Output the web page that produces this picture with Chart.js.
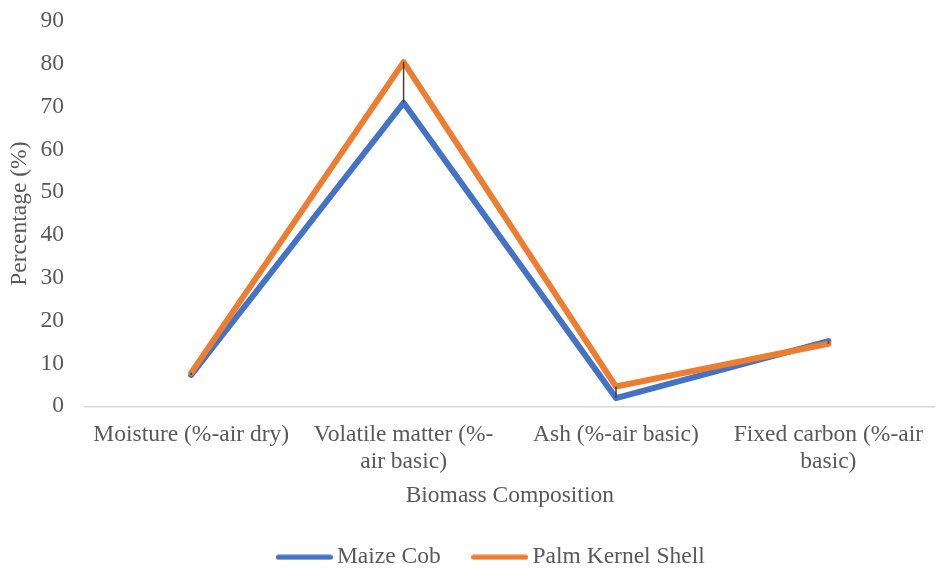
<!DOCTYPE html>
<html>
<head>
<meta charset="utf-8">
<script src="https://cdn.jsdelivr.net/npm/chart.js@4/dist/chart.umd.min.js"></script>
<style>
  html, body { margin: 0; padding: 0; background: #fff; }
  #wrap { width: 938px; height: 568px; }
</style>
</head>
<body>
<div id="wrap"><canvas id="c" width="938" height="568"></canvas></div>
<script>
// Proximate composition of the two biomass samples
const categories = [
  'Moisture (%-air dry)',
  ['Volatile matter (%-', 'air basic)'],
  'Ash (%-air basic)',
  ['Fixed carbon (%-air', 'basic)']
];
const maizeCob = [7.3, 70.9, 1.9, 15.2];
const palmKernelShell = [7.8, 80.4, 4.6, 14.6];
const yTicks = [0, 10, 20, 30, 40, 50, 60, 70, 80, 90];

const BLUE = '#4472C4';
const ORANGE = '#ED7D31';
const TEXT = '#595959';
const FONT = 'Liberation Serif';
const FS = 23.5;

// Short thick line with rounded ends, used as the legend marker
function legendLine(color) {
  const cv = document.createElement('canvas');
  cv.width = 57;
  cv.height = 6;
  const g = cv.getContext('2d');
  g.strokeStyle = color;
  g.lineWidth = 5;
  g.lineCap = 'round';
  g.beginPath();
  g.moveTo(2.5, 3);
  g.lineTo(54.5, 3);
  g.stroke();
  return cv;
}
const legendMarks = [legendLine(BLUE), legendLine(ORANGE)];

// Vertical high-low lines joining the two series at each category
const highLowLines = {
  id: 'highLowLines',
  afterDatasetsDraw(chart) {
    const a = chart.getDatasetMeta(0).data;
    const b = chart.getDatasetMeta(1).data;
    const ctx = chart.ctx;
    ctx.save();
    ctx.strokeStyle = '#404040';
    ctx.lineWidth = 1.5;
    for (let i = 0; i < a.length; i++) {
      ctx.beginPath();
      ctx.moveTo(a[i].x, a[i].y);
      ctx.lineTo(b[i].x, b[i].y);
      ctx.stroke();
    }
    ctx.restore();
  }
};

// Nudge the legend row a little to the right of centre
const legendShift = {
  id: 'legendShift',
  afterLayout(chart) {
    const lg = chart.legend;
    if (lg) { lg.left += 25; lg.right += 25; }
  }
};

new Chart(document.getElementById('c'), {
  type: 'line',
  data: {
    labels: categories,
    datasets: [
      {
        label: 'Maize Cob',
        data: maizeCob,
        borderColor: BLUE,
        backgroundColor: BLUE,
        borderWidth: 6,
        pointRadius: 0,
        borderCapStyle: 'round',
        borderJoinStyle: 'round',
        tension: 0,
        order: 2
      },
      {
        label: 'Palm Kernel Shell',
        data: palmKernelShell,
        borderColor: ORANGE,
        backgroundColor: ORANGE,
        borderWidth: 6,
        pointRadius: 0,
        borderCapStyle: 'round',
        borderJoinStyle: 'round',
        tension: 0,
        order: 1
      }
    ]
  },
  options: {
    responsive: false,
    animation: false,
    devicePixelRatio: 1,
    layout: { padding: { top: 21, right: 0, bottom: -11, left: 0 } },
    plugins: {
      tooltip: { enabled: false },
      legend: {
        position: 'bottom',
        labels: {
          color: TEXT,
          font: { family: FONT, size: FS },
          usePointStyle: true,
          pointStyleWidth: 42,
          boxHeight: 5,
          padding: 38,
          sort: (x, y) => x.datasetIndex - y.datasetIndex,
          generateLabels(chart) {
            const items = Chart.defaults.plugins.legend.labels.generateLabels(chart);
            items.forEach(it => {
              it.lineWidth = 0;
              it.pointStyle = legendMarks[it.datasetIndex];
            });
            return items;
          }
        }
      }
    },
    scales: {
      x: {
        type: 'category',
        offset: true,
        grid: { display: false, drawTicks: false },
        border: { display: true, color: '#D9D9D9', width: 1.5 },
        ticks: {
          color: TEXT,
          font: { family: FONT, size: FS, lineHeight: 1.15 },
          maxRotation: 0,
          autoSkip: false,
          padding: 15
        },
        title: {
          display: true,
          text: 'Biomass Composition',
          color: TEXT,
          font: { family: FONT, size: FS },
          padding: { top: -9, bottom: -2 }
        }
      },
      y: {
        min: 0,
        max: 90,
        afterBuildTicks(scale) { scale.ticks = yTicks.map(v => ({ value: v })); },
        afterFit(scale) {
          scale.width = 85;
          scale.paddingTop = 0;
          scale.paddingBottom = 0;
        },
        grid: { display: false, drawTicks: false },
        border: { display: false },
        ticks: {
          color: TEXT,
          font: { family: FONT, size: FS },
          padding: 21
        },
        title: {
          display: true,
          text: 'Percentage (%)',
          color: TEXT,
          font: { family: FONT, size: FS },
          padding: { top: 6, bottom: 4 }
        }
      }
    }
  },
  plugins: [highLowLines, legendShift]
});
</script>
</body>
</html>
